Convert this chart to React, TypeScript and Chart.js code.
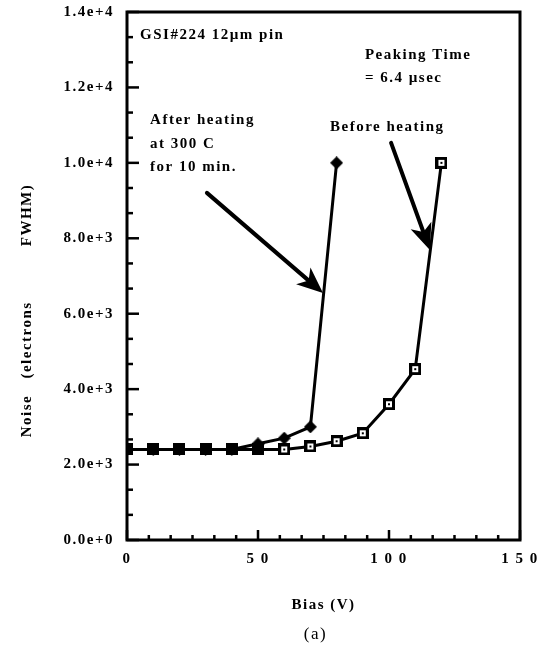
import React, { useEffect, useRef } from "react";
import { Chart, registerables } from "chart.js";

Chart.register(...registerables);

// ---- data ----
const biasBefore = [0, 10, 20, 30, 40, 50, 60, 70, 80, 90, 100, 110, 120];
const noiseBefore = [2400, 2400, 2400, 2400, 2400, 2400, 2400, 2480, 2620, 2830, 3600, 4530, 10000];
const biasAfter = [0, 10, 20, 30, 40, 50, 60, 70, 80];
const noiseAfter = [2400, 2400, 2400, 2400, 2400, 2550, 2700, 3000, 10000];

const xMajorTicks = [0, 50, 100, 150];
const yMajorTicks = [0, 2000, 4000, 6000, 8000, 10000, 12000, 14000];

// annotation texts (anchored left/middle, in data units)
const noteTexts = [
  { text: "GSI#224 12\u00B5m pin", x: 5.0, y: 13395 },
  { text: "Peaking Time", x: 90.8, y: 12865 },
  { text: "= 6.4 \u00B5sec", x: 90.8, y: 12255 },
  { text: "After heating", x: 8.8, y: 11141 },
  { text: "at 300 C", x: 8.8, y: 10504 },
  { text: "for 10 min.", x: 8.8, y: 9894 },
  { text: "Before heating", x: 77.5, y: 10955 },
];
// arrows: tail -> tip, in data units
const arrows = [
  { x0: 30.5, y0: 9204, x1: 74.8, y1: 6552 },
  { x0: 100.8, y0: 10531, x1: 115.6, y1: 7692 },
];

const FONT = '"Liberation Serif", "Times New Roman", serif';
const SPACING = "1.5px";

function makeMarker(kind: string): HTMLCanvasElement {
  const c = document.createElement("canvas");
  const s = kind === "diamond" ? 13 : 12;
  c.width = s;
  c.height = s;
  const g = c.getContext("2d")!;
  g.fillStyle = "#000";
  if (kind === "diamond") {
    g.beginPath();
    g.moveTo(s / 2, 0);
    g.lineTo(s, s / 2);
    g.lineTo(s / 2, s);
    g.lineTo(0, s / 2);
    g.closePath();
    g.fill();
  } else {
    g.fillRect(0, 0, s, s);
    if (kind === "open") {
      g.fillStyle = "#fff";
      g.fillRect(3, 3, 6, 6);
      g.fillStyle = "#000";
      g.fillRect(5, 5, 2, 2);
    }
  }
  return c;
}

export default function App() {
  const ref = useRef<HTMLCanvasElement | null>(null);

  useEffect(() => {
    document.body.style.margin = "0";
    const canvas = ref.current!;
    const filledSq = makeMarker("filled");
    const openSq = makeMarker("open");
    const diamond = makeMarker("diamond");

    const framePlugin = {
      id: "frame",
      beforeUpdate(chart: any) {
        (chart.ctx as any).letterSpacing = SPACING;
      },
      beforeDraw(chart: any) {
        const ctx = chart.ctx;
        ctx.save();
        ctx.fillStyle = "#fff";
        ctx.fillRect(0, 0, chart.width, chart.height);
        ctx.restore();
        (ctx as any).letterSpacing = SPACING;
      },
      beforeDatasetsDraw(chart: any) {
        const { ctx, chartArea, scales } = chart;
        const { left, right, top, bottom } = chartArea;
        const xs = scales.x;
        const ys = scales.y;
        ctx.save();
        ctx.strokeStyle = "#000";
        ctx.lineWidth = 3;
        ctx.strokeRect(left, top, right - left, bottom - top);
        ctx.lineWidth = 2.5;
        // y ticks (inside, pointing right)
        for (let i = 0; i <= 21; i++) {
          const v = (i * 2000) / 3;
          const py = ys.getPixelForValue(v);
          const len = i % 3 === 0 ? 12 : 6;
          ctx.beginPath();
          ctx.moveTo(left, py);
          ctx.lineTo(left + len, py);
          ctx.stroke();
        }
        // x ticks (inside, pointing up)
        for (let i = 0; i <= 18; i++) {
          const v = (i * 50) / 6;
          const px = xs.getPixelForValue(v);
          const len = i % 6 === 0 ? 10 : 5;
          ctx.beginPath();
          ctx.moveTo(px, bottom);
          ctx.lineTo(px, bottom - len);
          ctx.stroke();
        }
        ctx.restore();
      },
      afterDatasetsDraw(chart: any) {
        const { ctx, scales } = chart;
        const xs = scales.x;
        const ys = scales.y;
        ctx.save();
        ctx.fillStyle = "#000";
        ctx.strokeStyle = "#000";
        (ctx as any).letterSpacing = SPACING;
        ctx.font = `bold 15px ${FONT}`;
        ctx.textAlign = "left";
        ctx.textBaseline = "middle";
        for (const n of noteTexts) {
          ctx.fillText(n.text, xs.getPixelForValue(n.x), ys.getPixelForValue(n.y));
        }
        // arrows
        for (const a of arrows) {
          const x0 = xs.getPixelForValue(a.x0);
          const y0 = ys.getPixelForValue(a.y0);
          const x1 = xs.getPixelForValue(a.x1);
          const y1 = ys.getPixelForValue(a.y1);
          const ang = Math.atan2(y1 - y0, x1 - x0);
          const headLen = 26;
          const halfW = 11;
          const bx = x1 - headLen * Math.cos(ang);
          const by = y1 - headLen * Math.sin(ang);
          ctx.lineWidth = 4;
          ctx.lineCap = "round";
          ctx.beginPath();
          ctx.moveTo(x0, y0);
          ctx.lineTo(x1 - 10 * Math.cos(ang), y1 - 10 * Math.sin(ang));
          ctx.stroke();
          const nx = -Math.sin(ang);
          const ny = Math.cos(ang);
          const notchX = x1 - (headLen - 7) * Math.cos(ang);
          const notchY = y1 - (headLen - 7) * Math.sin(ang);
          ctx.beginPath();
          ctx.moveTo(x1, y1);
          ctx.lineTo(bx + nx * halfW, by + ny * halfW);
          ctx.lineTo(notchX, notchY);
          ctx.lineTo(bx - nx * halfW, by - ny * halfW);
          ctx.closePath();
          ctx.fill();
        }
        ctx.restore();
      },
      afterDraw(chart: any) {
        const { ctx, chartArea } = chart;
        ctx.save();
        ctx.fillStyle = "#000";
        (ctx as any).letterSpacing = SPACING;
        // y-axis title pieces
        ctx.font = `bold 15px ${FONT}`;
        ctx.textAlign = "center";
        ctx.textBaseline = "middle";
        const pieces = [
          { t: "Noise", y: 416 },
          { t: "(electrons", y: 340 },
          { t: "FWHM)", y: 215 },
        ];
        for (const p of pieces) {
          ctx.save();
          ctx.translate(27, p.y);
          ctx.rotate(-Math.PI / 2);
          ctx.fillText(p.t, 0, 0);
          ctx.restore();
        }
        // x title
        const cx = (chartArea.left + chartArea.right) / 2;
        ctx.fillText("Bias (V)", cx, 605);
        ctx.font = `17px ${FONT}`;
        ctx.fillText("(a)", cx - 8, 635);
        ctx.restore();
      },
    };

    const chart = new Chart(canvas, {
      type: "line",
      data: {
        datasets: [
          {
            label: "After heating",
            data: biasAfter.map((b, i) => ({ x: b, y: noiseAfter[i] })),
            borderColor: "#000",
            borderWidth: 3,
            pointStyle: diamond as any,
            pointRadius: 6,
            tension: 0,
          },
          {
            label: "Before heating",
            data: biasBefore.map((b, i) => ({ x: b, y: noiseBefore[i] })),
            borderColor: "#000",
            borderWidth: 3,
            pointStyle: ((c: any) => (c.dataIndex <= 5 ? filledSq : openSq)) as any,
            pointRadius: 6,
            tension: 0,
          },
        ],
      },
      options: {
        responsive: false,
        animation: false,
        events: [],
        layout: { padding: { top: 12, right: 23, left: 0, bottom: 0 } },
        plugins: {
          legend: { display: false },
          tooltip: { enabled: false },
        },
        scales: {
          x: {
            type: "linear",
            min: 0,
            max: 150,
            afterBuildTicks: (s: any) => {
              s.ticks = xMajorTicks.map((v) => ({ value: v }));
            },
            afterFit: (s: any) => {
              s.height = 107;
              s.paddingLeft = 0;
              s.paddingRight = 0;
            },
            ticks: {
              color: "#000",
              padding: 10,
              maxRotation: 0,
              font: { family: FONT, size: 15, weight: "bold" },
              callback: (v: any) => String(v).split("").join(" "),
            },
            grid: { display: false, drawTicks: false },
            border: { display: false },
          },
          y: {
            type: "linear",
            min: 0,
            max: 14000,
            afterBuildTicks: (s: any) => {
              s.ticks = yMajorTicks.map((v) => ({ value: v }));
            },
            afterFit: (s: any) => {
              s.width = 127;
              s.paddingTop = 0;
              s.paddingBottom = 0;
            },
            ticks: {
              color: "#000",
              padding: 13,
              font: { family: FONT, size: 15, weight: "bold" },
              callback: (v: any) => {
                const n = Number(v);
                if (n === 0) return "0.0e+0";
                const e = Math.floor(Math.log10(n));
                return (n / Math.pow(10, e)).toFixed(1) + "e+" + e;
              },
            },
            grid: { display: false, drawTicks: false },
            border: { display: false },
          },
        },
      },
      plugins: [framePlugin],
    });
    return () => chart.destroy();
  }, []);

  return (
    <div style={{ width: 543, height: 647, position: "relative" }}>
      <canvas ref={ref} width={543} height={647} style={{ display: "block" }} />
    </div>
  );
}
